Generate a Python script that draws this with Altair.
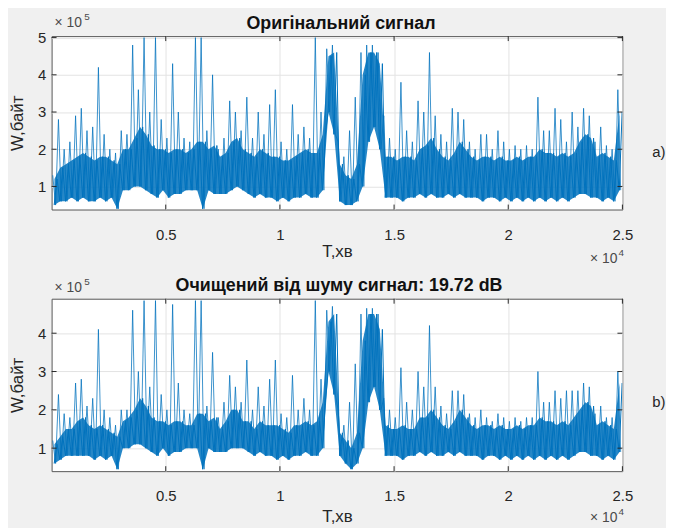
import altair as alt
import pandas as pd

# Signal values in units of 10^5 bytes, read per bin (100 bins of 250 samples, 0 .. 2.5x10^4)
top_peak = [1.3, 2.8, 2.0, 2.2, 2.9, 3.1, 2.5, 2.6, 4.2, 2.4,
            2.0, 1.9, 2.5, 2.4, 4.8, 3.6, 5.0, 3.0, 5.0, 2.8,
            2.3, 4.3, 3.0, 2.3, 2.2, 5.0, 5.0, 2.5, 4.0, 2.0,
            2.3, 3.3, 3.0, 2.5, 3.4, 2.3, 3.0, 2.4, 3.2, 3.6,
            2.2, 2.0, 3.2, 2.4, 2.6, 2.3, 5.0, 3.0, 4.7, 4.8,
            2.2, 1.8, 2.5, 3.4, 4.6, 4.8, 4.8, 4.6, 2.9, 2.3,
            2.0, 3.8, 2.5, 2.2, 3.3, 3.0, 4.6, 2.9, 2.4, 2.2,
            3.1, 3.0, 2.8, 2.2, 2.0, 2.4, 2.4, 2.0, 2.5, 2.2,
            2.0, 2.1, 2.0, 2.1, 2.0, 3.4, 2.5, 2.5, 3.1, 2.8,
            2.2, 3.0, 2.6, 3.1, 2.9, 2.2, 2.6, 2.1, 2.0, 3.6]
top_hi = [1.2, 1.5, 1.6, 1.7, 1.8, 1.9, 1.8, 1.7, 1.8, 1.8,
          1.7, 1.6, 2.0, 2.0, 2.3, 2.6, 2.4, 2.1, 2.0, 2.0,
          1.9, 2.0, 2.0, 1.9, 2.0, 2.2, 2.2, 2.0, 2.1, 1.8,
          1.9, 2.2, 2.3, 2.0, 1.9, 1.8, 2.0, 1.9, 1.8, 1.8,
          1.7, 1.7, 1.8, 1.9, 2.0, 1.9, 1.9, 2.4, 4.5, 4.6,
          1.6, 1.3, 1.2, 1.6, 4.0, 4.6, 4.6, 4.3, 1.8, 1.8,
          1.7, 1.8, 1.8, 1.7, 2.0, 2.1, 2.3, 2.0, 1.8, 1.7,
          1.9, 2.2, 2.0, 1.8, 1.7, 1.8, 1.8, 1.7, 1.8, 1.7,
          1.7, 1.8, 1.7, 1.8, 1.8, 2.0, 1.9, 1.9, 1.8, 1.9,
          1.8, 1.9, 2.2, 2.4, 2.3, 1.8, 1.9, 1.8, 1.7, 3.0]
top_lo = [0.5, 0.6, 0.6, 0.7, 0.6, 0.7, 0.6, 0.6, 0.7, 0.6,
          0.7, 0.4, 0.9, 0.9, 1.0, 1.0, 0.9, 0.8, 0.7, 0.9,
          0.7, 0.8, 0.8, 0.9, 0.9, 0.9, 0.4, 0.9, 0.8, 0.8,
          0.8, 0.9, 1.0, 0.9, 0.8, 0.7, 0.8, 0.7, 0.7, 0.6,
          0.7, 0.6, 0.7, 0.7, 0.8, 0.7, 0.7, 0.9, 3.0, 2.4,
          0.6, 0.5, 0.5, 0.6, 1.0, 2.2, 2.6, 2.0, 0.7, 0.7,
          0.7, 0.6, 0.7, 0.7, 0.8, 0.7, 0.8, 0.7, 0.7, 0.8,
          0.7, 0.8, 0.7, 0.7, 0.7, 0.6, 0.7, 0.7, 0.6, 0.7,
          0.6, 0.7, 0.6, 0.7, 0.6, 0.7, 0.6, 0.7, 0.6, 0.7,
          0.6, 0.7, 0.8, 0.8, 0.7, 0.7, 0.6, 0.7, 0.6, 0.9]

bot_peak = [1.2, 2.4, 1.9, 1.8, 2.7, 2.8, 2.1, 2.3, 4.1, 2.0,
            1.8, 1.6, 2.0, 2.0, 4.6, 3.0, 4.85, 2.6, 4.85, 2.4,
            2.0, 4.75, 2.7, 2.0, 1.9, 4.85, 4.85, 2.1, 3.5, 1.8,
            2.2, 2.9, 2.6, 2.2, 3.3, 2.0, 2.6, 2.1, 2.8, 3.3,
            1.9, 1.8, 2.9, 2.0, 2.3, 2.0, 4.85, 2.8, 4.6, 4.7,
            2.0, 1.6, 2.2, 3.2, 4.5, 4.65, 4.65, 4.5, 2.3, 2.0,
            1.8, 3.1, 2.2, 2.0, 3.0, 2.6, 4.2, 2.6, 2.1, 1.9,
            2.5, 2.5, 2.4, 1.9, 1.8, 2.0, 1.8, 1.7, 1.9, 1.8,
            1.7, 1.8, 1.7, 1.8, 1.8, 3.0, 2.2, 2.2, 2.5, 2.3,
            2.5, 2.5, 2.5, 2.7, 2.6, 1.9, 2.1, 1.8, 1.8, 3.0]
bot_hi = [1.1, 1.3, 1.5, 1.5, 1.7, 1.8, 1.6, 1.5, 1.6, 1.5,
          1.4, 1.3, 1.7, 1.8, 2.0, 2.3, 2.1, 1.8, 1.7, 1.7,
          1.6, 1.7, 1.7, 1.6, 1.6, 1.9, 1.9, 1.7, 1.8, 1.5,
          1.7, 2.0, 2.0, 1.7, 1.7, 1.5, 1.7, 1.6, 1.6, 1.6,
          1.5, 1.4, 1.6, 1.6, 1.7, 1.6, 1.7, 2.2, 4.3, 4.5,
          1.4, 1.2, 1.0, 1.4, 3.8, 4.5, 4.5, 4.1, 1.6, 1.5,
          1.5, 1.6, 1.5, 1.5, 1.8, 1.8, 2.0, 1.8, 1.6, 1.5,
          1.7, 2.0, 1.8, 1.6, 1.5, 1.6, 1.6, 1.5, 1.6, 1.5,
          1.5, 1.6, 1.5, 1.6, 1.6, 1.8, 1.7, 1.7, 1.6, 1.7,
          1.6, 1.8, 2.0, 2.2, 2.1, 1.6, 1.7, 1.6, 1.5, 2.7]
bot_lo = [0.6, 0.7, 0.8, 0.8, 0.8, 0.8, 0.8, 0.7, 0.8, 0.7,
          0.8, 0.45, 1.0, 1.0, 1.1, 1.1, 1.0, 0.9, 0.8, 1.0,
          0.8, 0.9, 0.9, 1.0, 1.0, 1.0, 0.45, 1.0, 0.9, 0.9,
          0.9, 1.0, 1.0, 1.0, 0.9, 0.8, 0.9, 0.8, 0.8, 0.7,
          0.8, 0.7, 0.8, 0.8, 0.9, 0.8, 0.8, 1.0, 3.0, 2.4,
          0.8, 0.6, 0.45, 0.6, 1.0, 2.2, 2.6, 2.0, 0.8, 0.8,
          0.8, 0.7, 0.8, 0.8, 0.9, 0.8, 0.9, 0.8, 0.8, 0.9,
          0.8, 0.9, 0.8, 0.8, 0.8, 0.7, 0.8, 0.8, 0.7, 0.8,
          0.7, 0.8, 0.7, 0.8, 0.7, 0.8, 0.7, 0.8, 0.7, 0.8,
          0.7, 0.8, 0.9, 0.9, 0.8, 0.8, 0.7, 0.8, 0.7, 0.9]

x_ticks = [0.5, 1, 1.5, 2, 2.5]
y_ticks_top = [1, 2, 3, 4, 5]
y_ticks_bot = [1, 2, 3, 4]

title_top = "Оригінальний сигнал"
title_bot = "Очищений від шуму сигнал: 19.72 dB"
x_title = "T,хв"
y_title = "W,байт"

BIN = 0.025
W = 576
FONT = "Liberation Sans"
BLUE = "#0072BD"
TXT = "#262626"
EXP = "#4a4a4a"


def frames(peak, hi, lo):
    core = pd.DataFrame({"t": [(i + 0.5) * BIN for i in range(len(hi))], "lo": lo, "hi": hi})
    zt, zv, ct, cv = [], [], [], []
    for i, (p, h, l) in enumerate(zip(peak, hi, lo)):
        zt += [(i + 0.2) * BIN, (i + 0.7) * BIN]
        zv += [p, l]
        ct += [(i + 0.45) * BIN, (i + 0.95) * BIN]
        cv += [l, h]
    zig = pd.DataFrame({"t": zt, "v": zv})
    hatch = pd.DataFrame({"t": ct, "v": cv})
    return core, zig, hatch


def panel(peak, hi, lo, ydom, yticks, title, title_x, title_y, letter, H,
          exp5_y, exp4_y, xtitle_pad, letter_y):
    core, zig, hatch = frames(peak, hi, lo)
    xs = alt.Scale(domain=[0, 2.5], nice=False, zero=False)
    ys = alt.Scale(domain=ydom, nice=False, zero=False)
    xax = alt.Axis(values=x_ticks, format="~g", title=x_title, grid=True, tickSize=0,
                   domain=False, labelPadding=18, titlePadding=xtitle_pad,
                   labelFontSize=15, titleFontSize=17, labelFont=FONT, titleFont=FONT,
                   labelColor=TXT, titleColor=TXT, titleFontWeight="normal",
                   gridColor="#e3e3e3", labelFlush=False)
    yax = alt.Axis(values=yticks, format="~g", title=y_title, grid=True, tickSize=0,
                   domain=False, labelPadding=6, titlePadding=11,
                   labelFontSize=15, titleFontSize=17, labelFont=FONT, titleFont=FONT,
                   labelColor=TXT, titleColor=TXT, titleFontWeight="normal",
                   gridColor="#e3e3e3")
    area = alt.Chart(core).mark_area(color=BLUE, opacity=0.85, clip=True).encode(
        x=alt.X("t:Q", scale=xs, axis=xax),
        y=alt.Y("lo:Q", scale=ys, axis=yax),
        y2="hi:Q",
    )
    hatch_line = alt.Chart(hatch).mark_line(color=BLUE, strokeWidth=1.0, clip=True).encode(
        x=alt.X("t:Q", scale=xs),
        y=alt.Y("v:Q", scale=ys),
    )
    line = alt.Chart(zig).mark_line(color=BLUE, strokeWidth=0.9, opacity=0.85, clip=True).encode(
        x=alt.X("t:Q", scale=xs),
        y=alt.Y("v:Q", scale=ys),
    )
    xt = pd.DataFrame({"t": x_ticks})
    yt = pd.DataFrame({"v": yticks})
    tick_b = alt.Chart(xt).mark_rule(color=TXT, strokeWidth=1).encode(
        x=alt.X("t:Q", scale=xs), y=alt.value(H), y2=alt.value(H - 5))
    tick_t = alt.Chart(xt).mark_rule(color=TXT, strokeWidth=1).encode(
        x=alt.X("t:Q", scale=xs), y=alt.value(0), y2=alt.value(5))
    tick_l = alt.Chart(yt).mark_rule(color=TXT, strokeWidth=1).encode(
        y=alt.Y("v:Q", scale=ys), x=alt.value(0), x2=alt.value(5))
    tick_r = alt.Chart(yt).mark_rule(color=TXT, strokeWidth=1).encode(
        y=alt.Y("v:Q", scale=ys), x=alt.value(W), x2=alt.value(W - 5))
    one = pd.DataFrame({"a": [0]})

    def txt(s, x, y, size=15, align="left", color=TXT, weight="normal"):
        return alt.Chart(one).mark_text(text=s, font=FONT, fontSize=size, align=align,
                                        baseline="middle", color=color,
                                        fontWeight=weight).encode(
            x=alt.value(x), y=alt.value(y))

    texts = [
        txt(title, title_x, title_y, 18, align="center", color="#111111", weight="bold"),
        txt("× 10", 3, exp5_y, 14, color=EXP),
        txt("5", 33, exp5_y - 6, 10, color=EXP),
        txt("× 10", 571, exp4_y, 14, align="right", color=EXP),
        txt("4", 572, exp4_y - 6, 10, color=EXP),
        txt(letter, 606, letter_y, 15),
    ]
    return alt.layer(area, hatch_line, line, tick_b, tick_t, tick_l, tick_r, *texts).properties(
        width=W, height=H,
    )


top = panel(top_peak, top_hi, top_lo, [0.38, 5.04], y_ticks_top, title_top, 292, -12,
            "a)", 175, -13, 225, 1, 117)
bot = panel(bot_peak, bot_hi, bot_lo, [0.4, 4.9], y_ticks_bot, title_bot, 290, -13,
            "b)", 174, -11, 221, 5, 104)

chart = alt.vconcat(top, bot, spacing=90, bounds="flush").properties(
    background="#f0f0f0",
    padding={"left": 0, "top": 1, "right": 0, "bottom": 0},
).configure_view(stroke="#555555", strokeWidth=1, fill="white")

chart.save("out.html", embed_options={"renderer": "svg", "actions": False})
